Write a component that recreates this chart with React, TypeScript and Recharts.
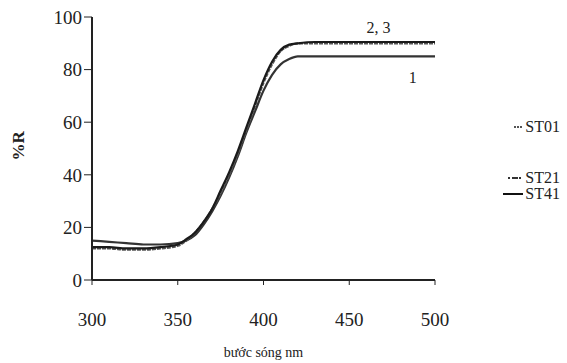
import { LineChart, Line, XAxis, YAxis, ReferenceDot } from "recharts";

const wavelengths = [300, 310, 320, 330, 340, 350, 355, 360, 365, 370, 375, 380, 385, 390, 395, 400, 405, 410, 415, 420, 430, 440, 450, 460, 470, 480, 490, 500];
const st01 = [15, 14.5, 14, 13.5, 13.5, 14, 15, 17, 21, 26, 32, 39, 47, 56, 64, 72, 78, 82, 84, 85, 85, 85, 85, 85, 85, 85, 85, 85];
const st21 = [12, 12, 11.5, 11.5, 12, 13, 15, 18, 22, 27, 33, 40, 48, 57, 66, 75, 82, 87, 89, 90, 90, 90, 90, 90, 90, 90, 90, 90];
const st41 = [12.5, 12.5, 12, 12, 12.5, 13.5, 15.5, 18, 22, 27, 34, 41, 49, 58, 67, 76, 83, 87.5, 89.5, 90, 90.5, 90.5, 90.5, 90.5, 90.5, 90.5, 90.5, 90.5];
const seriesNames = ["ST01", "ST21", "ST41"];
const xTicks = [300, 350, 400, 450, 500];
const yTicks = [0, 20, 40, 60, 80, 100];

const data = wavelengths.map((w, i) => ({ w, ST01: st01[i], ST21: st21[i], ST41: st41[i] }));

const font = "'Liberation Serif', 'DejaVu Serif', serif";

const legendStyles = [
  { top: 120, width: 9, dash: "2 1", color: "#555" },
  { top: 171, width: 15, dash: "2 2 6 1", color: "#333" },
  { top: 187, width: 20, dash: "", color: "#111" },
];

export default function App() {
  return (
    <div style={{ position: "relative", width: 567, height: 363, background: "#fff", fontFamily: font }}>
      <style>{`body{margin:0}`}</style>
      <LineChart width={567} height={363} data={data} margin={{ top: 17, right: 132, bottom: 0, left: 0 }}>
        <XAxis
          dataKey="w"
          type="number"
          domain={[300, 500]}
          ticks={xTicks}
          height={83}
          axisLine={{ stroke: "#222", strokeWidth: 2 }}
          tickLine={{ stroke: "#222" }}
          tickSize={5}
          tick={{ fill: "#222", fontSize: 19, fontFamily: font, dy: 26 }}
          label={{ value: "bước sóng nm", position: "insideBottom", offset: 6, fill: "#222", fontSize: 14, fontFamily: font }}
        />
        <YAxis
          domain={[0, 100]}
          ticks={yTicks}
          width={92}
          axisLine={{ stroke: "#222", strokeWidth: 2 }}
          tickLine={{ stroke: "#222" }}
          tickSize={8}
          tick={{ fill: "#222", fontSize: 19, fontFamily: font }}
          label={{ value: "%R", angle: -90, position: "insideLeft", offset: 18, dy: 12, fill: "#222", fontSize: 17, fontWeight: "bold", fontFamily: font }}
        />
        <Line dataKey="ST01" stroke="#333" strokeWidth={2.2} dot={false} type="monotone" isAnimationActive={false} />
        <Line dataKey="ST21" stroke="#555" strokeWidth={2.2} strokeDasharray="4 1" dot={false} type="monotone" isAnimationActive={false} />
        <Line dataKey="ST41" stroke="#1a1a1a" strokeWidth={2.2} dot={false} type="monotone" isAnimationActive={false} />
        <ReferenceDot x={467} y={96} r={0} label={{ value: "2, 3", fill: "#222", fontSize: 16, fontFamily: font }} />
        <ReferenceDot x={487} y={77} r={0} label={{ value: "1", fill: "#222", fontSize: 16, fontFamily: font }} />
      </LineChart>
      {seriesNames.map((name, i) => (
        <div key={name} style={{ position: "absolute", right: 7, top: legendStyles[i].top, display: "flex", alignItems: "center", fontSize: 16, lineHeight: "14px", color: "#222" }}>
          <svg width={legendStyles[i].width} height={4} style={{ marginRight: 2 }}>
            <line x1={0} y1={2} x2={legendStyles[i].width} y2={2} stroke={legendStyles[i].color} strokeWidth={2} strokeDasharray={legendStyles[i].dash} />
          </svg>
          {name}
        </div>
      ))}
    </div>
  );
}
